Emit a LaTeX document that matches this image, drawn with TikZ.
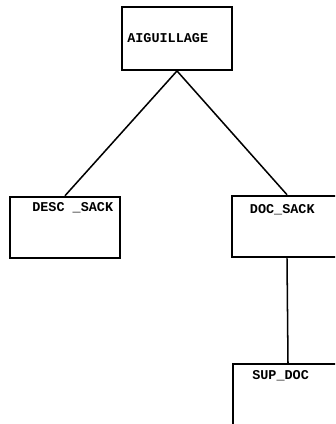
\documentclass[tikz,border=0pt]{standalone}
\usepackage{fontspec}
\newfontfamily\listing{Liberation Mono}
\usepackage{tikz}
\usetikzlibrary{positioning}

\tikzset{
    bloc/.style={draw, line width=1.6pt, rectangle, minimum width=3.3cm, minimum height=1.85cm, inner sep=0pt},
    etiq/.style={inner sep=0pt, font=\listing\bfseries\fontsize{11.5}{11.5}\selectfont},
    lien/.style={line width=1.3pt}
}

\begin{document}
\begin{tikzpicture}[x=0.03cm, y=-0.03cm]
    % Cadre de la page (335 x 424)
    \clip (0,0) rectangle (335,424);
    \useasboundingbox (0,0) rectangle (335,424);

    % 1. Les modules
    \node[bloc, minimum height=1.89cm, label={[etiq, anchor=west, xshift=0.18cm]west:AIGUILLAGE}] (aig) at (177,38.5) {};
    \node[bloc, label={[etiq, anchor=north west, xshift=0.69cm, yshift=-0.2cm]north west:DESC \_SACK}] (desc) at (65,227.5) {};
    \node[bloc, label={[etiq, anchor=north west, xshift=0.56cm, yshift=-0.28cm]north west:DOC\_SACK}] (doc) at (287,226.5) {};
    \node[bloc, label={[etiq, anchor=north west, xshift=0.6cm, yshift=-0.22cm]north west:SUP\_DOC}] (sup) at (288,395) {};

    % 2. Les liaisons
    \draw[lien] (aig.south) -- (desc.north);
    \draw[lien] (aig.south) -- (doc.north);
    \draw[lien] (doc.south) -- (sup.north);
\end{tikzpicture}
\end{document}
